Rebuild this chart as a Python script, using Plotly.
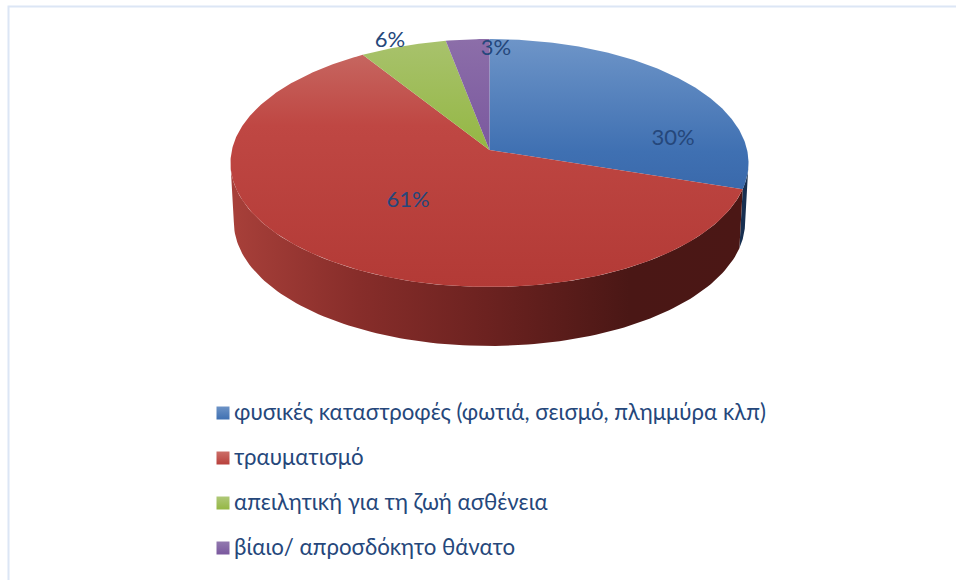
import numpy as np
import plotly.graph_objects as go

categories = ["φυσικές καταστροφές (φωτιά, σεισμό, πλημμύρα κλπ)", "τραυματισμό",
              "απειλητική για τη ζωή ασθένεια", "βίαιο/ απροσδόκητο θάνατο"]
values = [30, 61, 6, 3]
labels = ["30%", "61%", "6%", "3%"]

# styling / layout (pixel-based scene)
W, H = 956, 580
CX, APEX_Y, TOP_Y, BOT_Y = 489.5, 150.0, 39.0, 287.0
RX, DEPTH, BASE_SCALE = 257.6, 59.0, 0.987
R = (APEX_Y * 2 - TOP_Y * 1 - BOT_Y) / (BOT_Y - TOP_Y) * -1
P = TOP_Y * (1 + R) - APEX_Y
FONT = "Lato"
TXT = "#25477B"
top_grad = [
    [[0, "#6E95C8"], [0.75, "#3F70B2"], [1, "#3A69AB"]],
    [[0, "#C6655F"], [0.3, "#BF4743"], [1, "#B33A36"]],
    [[0, "#A8C26C"], [1, "#94B744"]],
    [[0, "#8C6EA9"], [1, "#7A589E"]],
]
top_span = [(39, 190), (56, 287), (41, 150), (39, 150)]
label_xy = [(673, 139), (408, 201), (390, 41), (496, 49)]
legend_y = [413, 458, 503, 548]
legend_swatch = [("#6D93C6", "#3F70B2"), ("#CC6E68", "#B8403C"), ("#AFC878", "#94B744"), ("#9279AF", "#7A589E")]
LEGEND_TEXT_X = 234
LEGEND_TEXT_DY = 1.5


def rim(theta, scale=1.0, dy=0.0):
    d = 1 + R * np.cos(theta)
    return CX + scale * RX * np.sin(theta) / d, (P * np.cos(theta) + APEX_Y) / d + dy


fig = go.Figure()


def wall(t0, t1, scale):
    t = np.linspace(t0, t1, 120)
    x1, y1 = rim(t)
    x2, y2 = rim(t[::-1], BASE_SCALE, DEPTH)
    fig.add_trace(go.Scatter(
        x=np.r_[x1, x2], y=np.r_[y1, y2], mode="lines", fill="toself",
        line=dict(width=0), hoverinfo="skip", showlegend=False,
        fillgradient=dict(type="horizontal", colorscale=scale,
                          start=float(min(x1.min(), x2.min())), stop=float(max(x1.max(), x2.max())))))


edges = np.radians(np.cumsum([0] + values) * 3.6)
left_turn = np.radians(264)
right_turn = np.radians(96)
wall(right_turn, edges[1], [[0, "#172F50"], [1, "#172F50"]])
wall(edges[1], left_turn, [[0, "#A8403A"], [0.25, "#872D2A"], [0.5, "#6C2220"], [0.78, "#4A1715"], [1, "#4B1715"]])

for i in range(len(values)):
    t = np.linspace(edges[i], edges[i + 1], max(8, int(values[i] * 6)))
    x, y = rim(t)
    fig.add_trace(go.Scatter(
        x=np.r_[CX, x, CX], y=np.r_[APEX_Y, y, APEX_Y], mode="lines", fill="toself",
        line=dict(width=0), name=categories[i], showlegend=False,
        hovertemplate=f"{categories[i]}: {labels[i]}<extra></extra>",
        fillgradient=dict(type="vertical", colorscale=top_grad[i],
                          start=top_span[i][0], stop=top_span[i][1])))

for i in range(len(values)):
    fig.add_trace(go.Scatter(
        x=[label_xy[i][0]], y=[label_xy[i][1]], mode="text", text=[labels[i]],
        textposition="middle center", textfont=dict(family=FONT, size=22, color=TXT),
        hoverinfo="skip", showlegend=False))

for i in range(len(categories)):
    fig.add_trace(go.Scatter(
        x=[223], y=[legend_y[i]], mode="markers",
        marker=dict(symbol="square", size=13, color=legend_swatch[i][0],
                    gradient=dict(type="vertical", color=legend_swatch[i][1]), line=dict(width=0)),
        hoverinfo="skip", showlegend=False))
    fig.add_trace(go.Scatter(
        x=[LEGEND_TEXT_X], y=[legend_y[i] + LEGEND_TEXT_DY], mode="text", text=[categories[i]],
        textposition="middle right", textfont=dict(family=FONT, size=22.25, color=TXT),
        hoverinfo="skip", showlegend=False))

axis = dict(visible=False, fixedrange=True)
fig.update_layout(
    width=W, height=H, margin=dict(l=0, r=0, t=0, b=0),
    paper_bgcolor="white", plot_bgcolor="white", showlegend=False,
    xaxis=dict(range=[0, W], **axis), yaxis=dict(range=[H, 0], **axis),
    shapes=[dict(type="path", path=f"M 8.5 {H} L 8.5 6.5 L {W} 6.5", xref="x", yref="y",
                 line=dict(color="#DCE6F5", width=2), layer="below")],
)
fig.write_html("out.html", config={"displayModeBar": False},
               post_script="document.body.style.margin='0';document.body.style.overflow='hidden';")
